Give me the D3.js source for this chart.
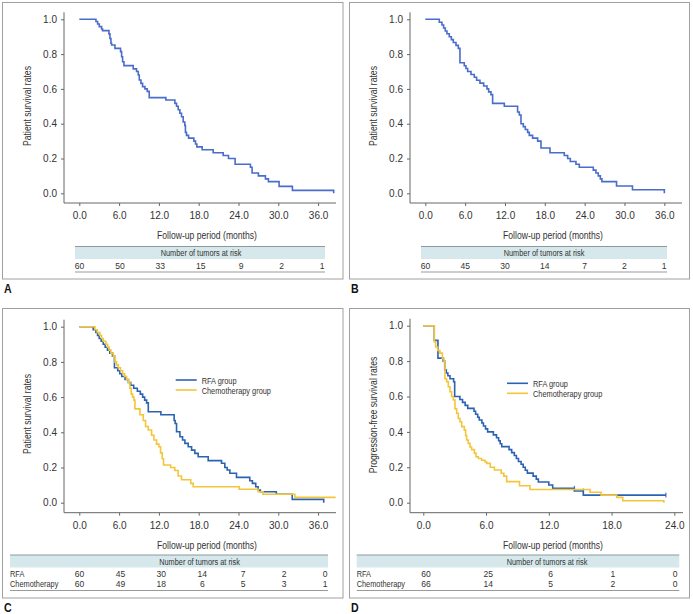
<!DOCTYPE html>
<html><head><meta charset="utf-8">
<script src="https://cdn.jsdelivr.net/npm/d3@7"></script>
<style>
html,body{margin:0;padding:0;background:#fff;}
svg{display:block;}
text{font-family:"Liberation Sans",Arial,sans-serif;fill:#333;}
</style></head>
<body>
<svg id="c" width="693" height="614"></svg>
<script>
// ---------- data ----------
const yTicks = [0, 0.2, 0.4, 0.6, 0.8, 1.0];
const xTicks36 = [0, 6, 12, 18, 24, 30, 36];
const xTicks24 = [0, 6, 12, 18, 24];

// Panel A: overall survival, all tumours
const aTime = [0,2.51,2.76,3.01,3.36,3.51,4.47,4.62,4.77,4.87,5.37,6.22,6.38,6.53,6.73,8.13,8.63,8.89,9.04,9.29,9.54,9.89,10.24,10.54,13.05,14.41,14.66,14.91,15.16,15.41,15.66,15.91,16.0,16.16,16.47,17.27,17.52,17.72,18.52,20.18,21.69,22.49,23.49,25.8,26.05,27.0,28.06,28.51,30.12,32.13,38.35];
const aSurv = [1,0.987,0.973,0.958,0.944,0.935,0.916,0.89,0.862,0.852,0.833,0.814,0.785,0.756,0.734,0.715,0.7,0.68,0.651,0.632,0.613,0.6,0.586,0.55,0.536,0.517,0.5,0.48,0.46,0.44,0.41,0.39,0.35,0.333,0.317,0.3,0.283,0.267,0.25,0.233,0.217,0.2,0.167,0.15,0.117,0.1,0.083,0.067,0.04,0.017,0];
const aRisk = [60, 50, 33, 15, 9, 2, 1];

// Panel B: overall survival, RFA
const bTime = [0,2.11,2.51,2.76,3.01,3.26,3.61,3.92,4.22,4.62,4.97,5.22,5.87,6.12,6.38,6.88,7.38,7.73,8.23,8.79,9.29,9.54,9.89,10.14,11.9,13.9,14.16,14.41,14.76,15.06,15.41,15.66,16.16,16.92,17.42,18.78,20.93,21.44,21.84,22.69,23.19,25.3,25.7,26.05,26.36,26.6,28.8,31.2,36.0];
const bSurv = [1,0.983,0.967,0.95,0.933,0.917,0.9,0.883,0.867,0.85,0.833,0.75,0.733,0.717,0.7,0.683,0.667,0.65,0.633,0.617,0.6,0.583,0.567,0.517,0.5,0.467,0.45,0.4,0.383,0.367,0.35,0.333,0.317,0.3,0.26,0.233,0.217,0.2,0.183,0.167,0.15,0.133,0.117,0.1,0.083,0.067,0.042,0.02,0];
const bRisk = [60, 45, 30, 14, 7, 2, 1];

// Panel C: overall survival, RFA vs chemotherapy
const cRfaTime = [0,2.1,2.5,2.75,3.0,3.3,3.6,3.9,4.25,4.6,5.0,5.3,5.8,6.1,6.4,6.9,7.4,7.75,8.2,8.75,9.2,9.55,9.85,10.15,10.4,12.3,14.3,14.45,14.66,15.17,15.57,15.92,16.42,16.93,17.42,17.92,19.43,21.44,21.94,22.29,22.7,23.7,25.7,26.1,26.6,26.96,27.3,29.7,32.1,36.85];
const cRfaSurv = [1,0.983,0.967,0.95,0.933,0.917,0.9,0.883,0.867,0.85,0.833,0.767,0.75,0.733,0.717,0.7,0.683,0.667,0.65,0.633,0.617,0.6,0.583,0.567,0.517,0.5,0.467,0.45,0.403,0.375,0.356,0.337,0.318,0.299,0.28,0.261,0.239,0.224,0.2,0.186,0.167,0.144,0.125,0.11,0.091,0.072,0.0625,0.048,0.019,0];
const cChemoTime = [0,2.36,2.71,3.11,3.36,3.61,4.02,4.27,4.52,4.77,5.12,5.37,5.62,5.87,6.22,6.53,6.83,7.13,7.43,7.63,7.83,8.03,8.23,8.39,9.14,9.64,9.99,10.4,10.9,11.25,11.65,12.0,12.25,12.5,12.7,13.76,14.4,14.9,15.4,16.8,17.17,24.1,26.96,27.7,32.5,38.65];
const cChemoSurv = [1,0.983,0.967,0.95,0.933,0.917,0.9,0.883,0.867,0.85,0.833,0.8,0.783,0.767,0.75,0.733,0.717,0.7,0.683,0.65,0.617,0.6,0.583,0.533,0.5,0.467,0.433,0.413,0.383,0.356,0.333,0.318,0.283,0.25,0.214,0.2,0.183,0.152,0.13,0.11,0.091,0.076,0.0625,0.048,0.03,0.03];
const cRfaRisk = [60, 45, 30, 14, 7, 2, 0];
const cChemoRisk = [60, 49, 18, 6, 5, 3, 1];

// Panel D: progression-free survival, RFA vs chemotherapy
const dRfaTime = [0,1.05,1.4,1.9,2.05,2.2,2.35,2.55,2.9,3.0,3.5,3.75,4.0,4.25,4.85,5.0,5.2,5.35,5.6,5.75,5.95,6.15,6.7,7.0,7.2,7.35,7.5,8.2,8.45,8.7,8.9,9.1,9.35,9.55,9.75,9.95,10.5,10.8,11.0,12.0,12.37,14.44,15.3,23.2];
const dRfaSurv = [1,0.917,0.817,0.8,0.75,0.733,0.717,0.7,0.683,0.6,0.583,0.567,0.55,0.533,0.517,0.5,0.483,0.467,0.45,0.433,0.417,0.4,0.383,0.367,0.35,0.333,0.317,0.3,0.283,0.267,0.25,0.233,0.217,0.2,0.183,0.167,0.15,0.133,0.117,0.1,0.081,0.066,0.043,0.043];
const dChemoTime = [0,1.05,1.18,1.37,1.59,1.82,1.98,2.07,2.23,2.39,2.55,2.71,2.87,3.03,3.19,3.35,3.5,3.67,3.92,4.05,4.14,4.3,4.46,4.62,4.88,5.04,5.26,5.58,5.9,6.06,6.4,6.8,7.45,7.7,7.97,9.2,10.2,15.94,17.0,18.49,19.07,23.0];
const dChemoSurv = [1,0.91,0.88,0.86,0.845,0.815,0.797,0.7,0.684,0.655,0.627,0.6,0.58,0.53,0.505,0.476,0.457,0.43,0.41,0.38,0.354,0.335,0.315,0.3,0.28,0.26,0.25,0.24,0.23,0.222,0.2,0.185,0.166,0.15,0.119,0.096,0.075,0.059,0.043,0.03,0.011,0];
const dRfaCensorT = [14.44, 15.3, 23.2];
const dRfaCensorS = [0.081, 0.066, 0.043];
const dRfaRisk = [60, 25, 6, 1, 0];
const dChemoRisk = [66, 14, 5, 2, 0];

// ---------- styles ----------
const BLUE_AB = "#4a6ccb";
const BLUE = "#2b63b1";
const YELLOW = "#f3c63a";
const AXIS = "#666";
const FRAME = "#a0a0a0";
const HEAD = "#d6e8eb";
const SX = 0.82; // horizontal condensing of the letter text

const svg = d3.select("#c");
const zip = (t, s) => t.map((v, i) => [v, s[i]]);

// condense a text horizontally around its anchor point
function cond(sel, sx) {
  const k = sx || SX;
  sel.each(function () {
    const t = d3.select(this);
    const x = +t.attr("x") || 0, y = +t.attr("y") || 0;
    const pre = t.attr("transform") || "";
    t.attr("x", 0).attr("y", 0).attr("transform", `${pre} translate(${x},${y}) scale(${k},1)`);
  });
}

function txt(g, x, y, s, size, anchor, sx) {
  return g.append("text").attr("x", x).attr("y", y).attr("font-size", size)
    .attr("text-anchor", anchor || "start").text(s).call(cond, sx);
}

function panel(o) {
  const g = svg.append("g");
  // frame
  g.append("rect").attr("x", o.frame[0]).attr("y", o.frame[1])
    .attr("width", o.frame[2] - o.frame[0]).attr("height", o.frame[3] - o.frame[1])
    .attr("fill", "none").attr("stroke", FRAME).attr("stroke-width", 1);
  // panel letter
  g.append("text").attr("x", o.frame[0] + 1.5).attr("y", o.frame[3] + 14)
    .attr("font-size", 12.5).attr("font-weight", "bold").style("fill", "#111").text(o.letter).call(cond, 0.85);

  const x = d3.scaleLinear().domain([0, o.xMax]).range([o.x0, o.xEnd]);
  const y = d3.scaleLinear().domain([0, 1]).range([o.y0, o.y1]);

  // axis lines
  g.append("line").attr("x1", o.yAxisX).attr("x2", o.yAxisX).attr("y1", o.y1 - 7).attr("y2", o.xAxisY)
    .attr("stroke", AXIS);
  g.append("line").attr("x1", o.yAxisX).attr("x2", o.xEnd).attr("y1", o.xAxisY).attr("y2", o.xAxisY)
    .attr("stroke", AXIS);

  const ya = g.append("g").attr("transform", `translate(${o.yAxisX},0)`)
    .call(d3.axisLeft(y).tickValues(yTicks).tickFormat(d3.format(".1f")).tickSize(3).tickPadding(4));
  ya.select(".domain").remove();
  ya.selectAll("line").attr("stroke", AXIS);
  ya.selectAll("text").attr("font-size", 10).style("font-family", null).attr("fill", "#333");

  const xa = g.append("g").attr("transform", `translate(0,${o.xAxisY})`)
    .call(d3.axisBottom(x).tickValues(o.xTicks).tickFormat(d3.format(".1f")).tickSize(3).tickPadding(6));
  xa.select(".domain").remove();
  xa.selectAll("line").attr("stroke", AXIS);
  xa.selectAll("text").attr("font-size", 10).style("font-family", null).attr("fill", "#333");

  // axis titles
  txt(g, o.xTitleX, o.xAxisY + 36, "Follow-up period (months)", 10.5, "middle");
  g.append("text").attr("transform", `translate(${o.yTitleX},${o.yTitleY}) rotate(-90) scale(${SX},1)`)
    .attr("text-anchor", "middle").attr("font-size", 10.5).text(o.yTitle);

  // curves
  const line = d3.line().x(d => x(d[0])).y(d => y(d[1])).curve(d3.curveStepAfter);
  o.series.forEach(s => {
    g.append("path").datum(zip(s.t, s.s)).attr("d", line)
      .attr("fill", "none").attr("stroke", s.color).attr("stroke-width", 1.6);
    if (s.ct) {
      s.ct.forEach((t, i) => {
        g.append("line").attr("x1", x(t)).attr("x2", x(t))
          .attr("y1", y(s.cs[i]) - 2.5).attr("y2", y(s.cs[i]) + 2.5)
          .attr("stroke", s.color).attr("stroke-width", 1);
      });
    }
  });

  // legend
  if (o.legend) {
    o.series.forEach((s, i) => {
      const ly = o.legend[1] + i * 10;
      g.append("line").attr("x1", o.legend[0]).attr("x2", o.legend[0] + 21)
        .attr("y1", ly).attr("y2", ly).attr("stroke", s.color).attr("stroke-width", 1.6);
      txt(g, o.legend[0] + 26, ly + 3.5, s.name, 9);
    });
  }

  // risk table
  const tb = o.table;
  g.append("rect").attr("x", tb.x0).attr("y", tb.yTop).attr("width", tb.x1 - tb.x0).attr("height", 12.5)
    .attr("fill", HEAD);
  g.append("line").attr("x1", tb.x0).attr("x2", tb.x1).attr("y1", tb.yTop).attr("y2", tb.yTop)
    .attr("stroke", "#8a9a9d").attr("stroke-width", 1);
  txt(g, tb.headX, tb.yTop + 9.5, "Number of tumors at risk", 9, "middle");
  const cx = d3.scaleLinear().domain([0, tb.rows[0].v.length - 1]).range([tb.c0, tb.c1]);
  tb.rows.forEach((r, ri) => {
    const ry = tb.yTop + 22 + ri * 10;
    if (r.label) txt(g, tb.x0, ry, r.label, 9);
    r.v.forEach((v, i) => txt(g, cx(i), ry, v, 9, "middle", 0.95));
  });
  const by = tb.yTop + 25.5 + (tb.rows.length - 1) * 10;
  g.append("line").attr("x1", tb.x0).attr("x2", tb.x1).attr("y1", by).attr("y2", by)
    .attr("stroke", "#9a9a9a").attr("stroke-width", 1);
}

panel({
  letter: "A", frame: [2.5, 2.5, 343, 279],
  xMax: 38.7, x0: 79.3, xEnd: 336, y0: 193.3, y1: 19.3, yAxisX: 64, xAxisY: 203,
  xTicks: xTicks36, xTitleX: 207, yTitleX: 31, yTitleY: 106, yTitle: "Patient survival rates",
  series: [{ t: aTime, s: aSurv, color: BLUE_AB }],
  table: { x0: 75, x1: 325, yTop: 246.5, headX: 201, c0: 79.5, c1: 322, rows: [{ v: aRisk }] }
});

panel({
  letter: "B", frame: [349.5, 2.5, 689.5, 279],
  xMax: 38.66, x0: 425.3, xEnd: 682, y0: 193.3, y1: 19.3, yAxisX: 410, xAxisY: 203,
  xTicks: xTicks36, xTitleX: 553, yTitleX: 377, yTitleY: 106, yTitle: "Patient survival rates",
  series: [{ t: bTime, s: bSurv, color: BLUE_AB }],
  table: { x0: 421, x1: 667, yTop: 246.5, headX: 544, c0: 425.5, c1: 664, rows: [{ v: bRisk }] }
});

panel({
  letter: "C", frame: [2.5, 308.5, 343, 598],
  xMax: 38.7, x0: 79.3, xEnd: 336, y0: 502.7, y1: 326.7, yAxisX: 64, xAxisY: 512.7,
  xTicks: xTicks36, xTitleX: 207, yTitleX: 31, yTitleY: 414, yTitle: "Patient survival rates",
  series: [
    { name: "RFA group", t: cRfaTime, s: cRfaSurv, color: BLUE },
    { name: "Chemotherapy group", t: cChemoTime, s: cChemoSurv, color: YELLOW }
  ],
  legend: [175.7, 380],
  table: { x0: 10, x1: 328, yTop: 555, headX: 199.5, c0: 79.5, c1: 325,
    rows: [{ label: "RFA", v: cRfaRisk }, { label: "Chemotherapy", v: cChemoRisk }] }
});

panel({
  letter: "D", frame: [349.5, 308.5, 689.5, 598],
  xMax: 24.83, x0: 423.3, xEnd: 683, y0: 502.7, y1: 325.7, yAxisX: 410, xAxisY: 512.7,
  xTicks: xTicks24, xTitleX: 553, yTitleX: 377, yTitleY: 415, yTitle: "Progression-free survival rates",
  series: [
    { name: "RFA group", t: dRfaTime, s: dRfaSurv, color: BLUE, ct: dRfaCensorT, cs: dRfaCensorS },
    { name: "Chemotherapy group", t: dChemoTime, s: dChemoSurv, color: YELLOW }
  ],
  legend: [507, 383.3],
  table: { x0: 356.7, x1: 679.3, yTop: 555, headX: 547, c0: 426, c1: 675,
    rows: [{ label: "RFA", v: dRfaRisk }, { label: "Chemotherapy", v: dChemoRisk }] }
});
</script>
</body></html>
